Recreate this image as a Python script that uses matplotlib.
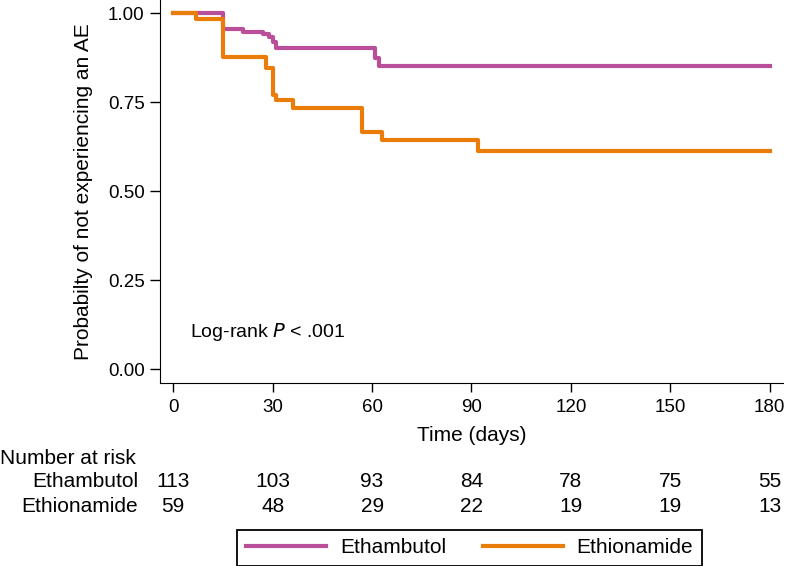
import matplotlib
matplotlib.use("Agg")
import matplotlib.pyplot as plt
import matplotlib.transforms as mtransforms

plt.rcParams['font.family'] = ['Liberation Sans', 'DejaVu Sans']

# Kaplan-Meier steps
emb_days = [0, 15, 21, 27, 29, 30, 31, 61, 62, 180]
emb_surv = [1.0, 0.955, 0.947, 0.941, 0.934, 0.920, 0.902, 0.874, 0.853, 0.853]
eto_days = [0, 7, 15, 28, 30, 31, 36, 57, 63, 92, 180]
eto_surv = [1.0, 0.984, 0.878, 0.846, 0.770, 0.756, 0.733, 0.666, 0.644, 0.614, 0.614]

risk_times = [0, 30, 60, 90, 120, 150, 180]
emb_risk = [113, 103, 93, 84, 78, 75, 55]
eto_risk = [59, 48, 29, 22, 19, 19, 13]
yticks = [0.0, 0.25, 0.5, 0.75, 1.0]

c_emb = '#B94F99'
c_eto = '#EA7D0A'

fig = plt.figure(figsize=(7.88, 5.66), dpi=100)
ax = fig.add_axes([0.2030, 0.3238, 0.7907, 0.6762])

ax.step(emb_days, emb_surv, where='post', color=c_emb, lw=3, label='Ethambutol', zorder=2)
ax.step(eto_days, eto_surv, where='post', color=c_eto, lw=3, label='Ethionamide', zorder=3)

ax.set_xlim(-4, 184)
ax.set_ylim(-0.0376, 1.037)
ax.set_xticks(risk_times)
ax.set_yticks(yticks)
ax.set_yticklabels(['%.2f' % v for v in yticks])
ax.spines['top'].set_visible(False)
ax.spines['right'].set_visible(False)
ax.tick_params(axis='y', direction='out', length=7, width=1, labelsize=13.5, pad=4)
ax.tick_params(axis='x', direction='out', length=6.5, width=1, labelsize=13.5, pad=5)

ax.set_xlabel('Time (days)', fontsize=15)
ax.xaxis.label.set_va('center')
ax.xaxis.set_label_coords(0.5, -0.1367)
ax.set_ylabel('Probabilty of not experiencing an AE', fontsize=15, labelpad=11)

ax.text(5, 0.106, 'Log-rank $\\it{P}$ < .001', fontsize=14, ha='left', va='center')

# number at risk table
tr = mtransforms.blended_transform_factory(ax.transData, fig.transFigure)
fig.text(0.0, 0.1908, 'Number at risk', fontsize=15, ha='left', va='center')
fig.text(0.1751, 0.149, 'Ethambutol', fontsize=15, ha='right', va='center')
fig.text(0.1751, 0.1048, 'Ethionamide', fontsize=15, ha='right', va='center')
for t, a, b in zip(risk_times, emb_risk, eto_risk):
    ax.text(t, 0.149, str(a), transform=tr, fontsize=15, ha='center', va='center', clip_on=False)
    ax.text(t, 0.1048, str(b), transform=tr, fontsize=15, ha='center', va='center', clip_on=False)

leg = fig.legend(loc='lower left', bbox_to_anchor=(237.3 / 788, 0.0), ncol=2, fontsize=15,
                 handlelength=3.84, handletextpad=0.67, columnspacing=1.75,
                 borderpad=0.42, borderaxespad=0, fancybox=False, framealpha=1,
                 edgecolor='black')
leg.get_frame().set_linewidth(1.3)

fig.savefig('out.png', dpi=100)
